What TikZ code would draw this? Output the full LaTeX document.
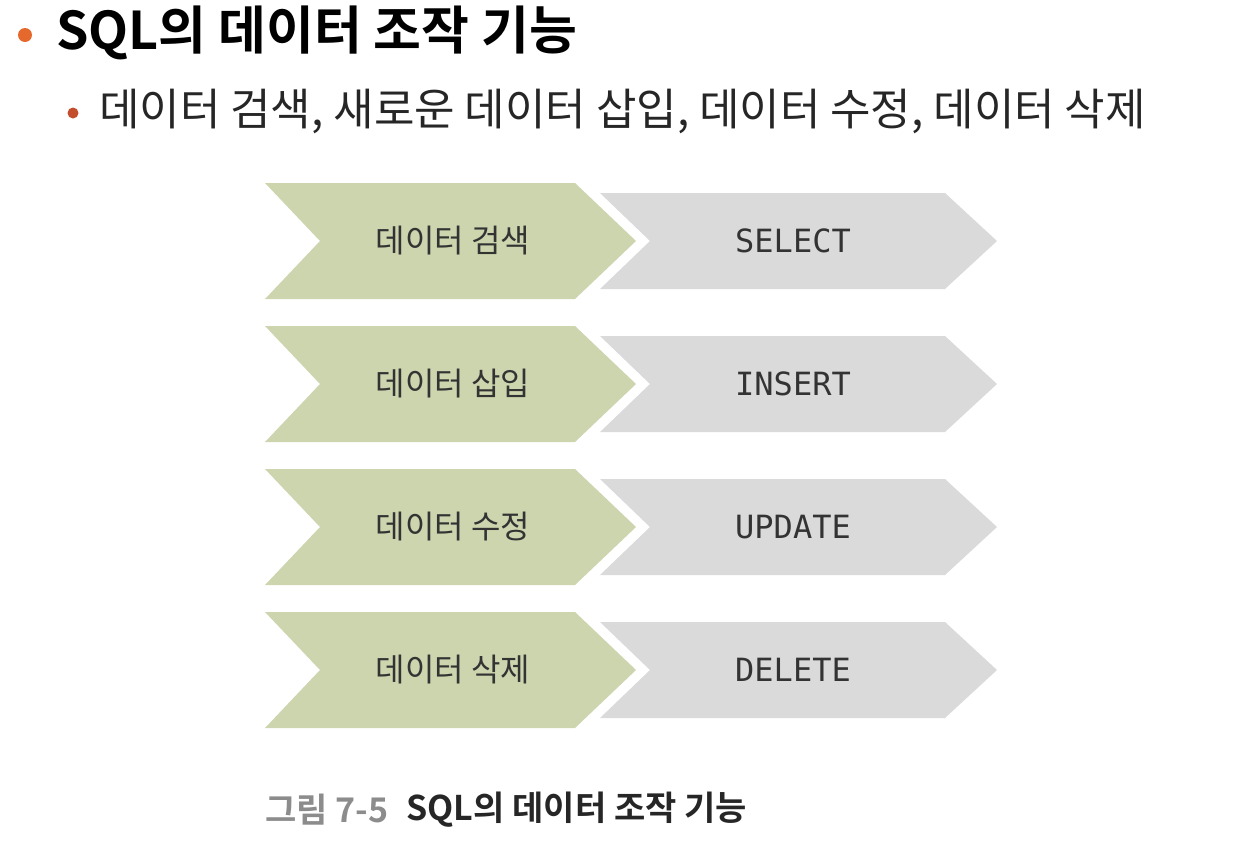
\documentclass[tikz,border=0pt]{standalone}
\usepackage{fontspec}
\setmainfont{Noto Sans CJK KR}[BoldFont={Noto Sans CJK KR Bold}]
\newfontfamily\codefont{DejaVu Sans Mono}
\usetikzlibrary{positioning}
\definecolor{chevgreen}{HTML}{CCD5AE}
\definecolor{chevgray}{HTML}{DADADA}
\definecolor{dotorange}{HTML}{E5692C}
\definecolor{dotred}{HTML}{C24E2E}
\definecolor{labeltext}{HTML}{333333}
\definecolor{capgray}{HTML}{8C8C8C}

\begin{document}
\begin{tikzpicture}[x=1pt,y=-1pt,
	kolabel/.style={text=labeltext,font=\fontsize{32}{36}\selectfont},
	enlabel/.style={text=labeltext,font=\codefont\fontsize{32}{36}\selectfont}
	]
	\useasboundingbox (0,0) rectangle (1250,855);

	% heading
	\node[circle,fill=dotorange,inner sep=0pt,minimum size=14pt] (b1) at (25,35) {};
	\node[anchor=west,inner sep=0pt,font=\fontsize{52}{58}\selectfont\bfseries] (title) at (56,33) {SQL의 데이터 조작 기능};

	\node[circle,fill=dotred,inner sep=0pt,minimum size=11pt] (b2) at (73,113) {};
	\node[anchor=west,inner sep=0pt,font=\fontsize{44}{49}\selectfont,text=black!85] (sub) at (99,111) {데이터 검색, 새로운 데이터 삽입, 데이터 수정, 데이터 삭제};

	% chevrons
	\foreach \i/\ko/\en in {1/검색/SELECT,2/삽입/INSERT,3/수정/UPDATE,4/삭제/DELETE} {
		\pgfmathsetmacro\cy{241+143*(\i-1)}
		\fill[chevgreen] (265,\cy-58) -- (575,\cy-58) -- (636,\cy) -- (575,\cy+58) -- (265,\cy+58) -- (320,\cy) -- cycle;
		\fill[chevgray] (600,\cy-48) -- (945,\cy-48) -- (997,\cy) -- (945,\cy+48) -- (600,\cy+48) -- (650,\cy) -- cycle;
		\node[kolabel] (ko\i) at (453,\cy) {데이터 \ko};
		\node[enlabel] (en\i) at (793,\cy) {\en};
	}

	% caption
	\node[anchor=west,inner sep=0pt,text=capgray,font=\fontsize{34}{38}\selectfont\bfseries] (cap1) at (265,810) {그림 7-5};
	\node[right=18pt of cap1,inner sep=0pt,text=black!85,font=\fontsize{34}{38}\selectfont\bfseries] (cap2) {SQL의 데이터 조작 기능};

\end{tikzpicture}
\end{document}
